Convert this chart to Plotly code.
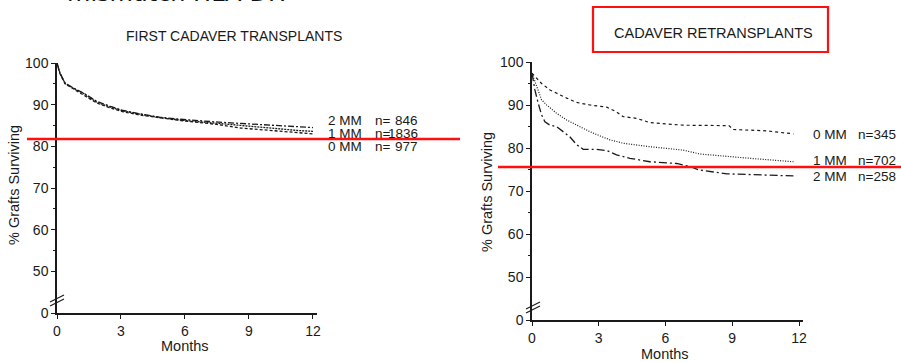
import plotly.graph_objects as go

W, H = 901, 362
def px(x): return x / W
def py(y): return 1 - y / H

# ---------------- data ----------------
x_ticks = [0, 3, 6, 9, 12]
y_tickvals = [40, 50, 60, 70, 80, 90, 100]
y_ticktext = ["0", "50", "60", "70", "80", "90", "100"]

first_months = [0, 0.14, 0.38, 0.77, 1.24, 1.86, 2.5, 3.1, 3.9, 4.8, 5.8, 6.7, 7.6, 8.6, 9.5, 10.6, 11.3, 12]
first_2mm = [100, 97.6, 95.2, 94.0, 92.8, 90.8, 89.6, 88.6, 87.8, 87.0, 86.5, 86.1, 85.8, 85.5, 85.2, 84.9, 84.7, 84.5]
first_1mm = [100, 97.5, 95.1, 93.9, 92.7, 90.6, 89.4, 88.5, 87.7, 86.9, 86.3, 85.9, 85.4, 84.9, 84.5, 84.1, 83.8, 83.6]
first_0mm = [100, 97.4, 95.0, 93.8, 92.5, 90.4, 89.2, 88.3, 87.5, 86.8, 86.2, 85.7, 85.2, 84.4, 84.0, 83.6, 83.3, 83.0]
first_labels = [("2 MM", "846"), ("1 MM", "1836"), ("0 MM", "977")]

re_0mm_m = [0, 0.43, 0.81, 1.26, 1.56, 2.0, 2.6, 3.36, 3.8, 4.1, 4.7, 5.3, 6.8, 8.85, 9.05, 10.5, 11.75]
re_0mm = [97.4, 95.0, 93.5, 92.3, 91.6, 90.6, 90.0, 89.5, 88.4, 87.3, 86.9, 85.9, 85.3, 85.2, 84.3, 84.0, 83.3]
re_1mm_m = [0, 0.21, 0.43, 0.66, 1.1, 1.56, 2.0, 2.6, 3.06, 3.5, 4.1, 5.3, 6.8, 7.55, 9.8, 11.75]
re_1mm = [97.4, 94.3, 91.2, 90.0, 88.1, 86.5, 85.3, 83.8, 82.8, 81.9, 81.1, 80.3, 79.5, 78.6, 77.6, 76.8]
re_2mm_m = [0, 0.13, 0.28, 0.43, 0.58, 0.81, 1.1, 1.4, 1.7, 2.0, 2.3, 2.9, 3.36, 3.8, 4.4, 5.3, 6.5, 7.1, 7.5, 8.75, 11.75]
re_2mm = [97.4, 93.5, 90.4, 87.7, 86.1, 85.3, 85.0, 83.8, 82.6, 80.8, 79.7, 79.7, 79.4, 78.4, 77.6, 76.8, 76.4, 75.7, 74.9, 74.0, 73.5]
re_labels = [("0 MM", "345"), ("1 MM", "702"), ("2 MM", "258")]

FONT = "Liberation Sans, Arial, Helvetica, sans-serif"
INK = "#1a1a1a"

fig = go.Figure()

def add_line(xs, ys, dash, xa, ya, width=1.3):
    fig.add_trace(go.Scatter(x=xs, y=ys, mode="lines", xaxis=xa, yaxis=ya,
                             line=dict(color=INK, width=width, dash=dash),
                             showlegend=False, hoverinfo="skip"))

add_line(first_months, first_2mm, "6px,2px,2px,2px", "x", "y")
add_line(first_months, first_1mm, "2px,1px", "x", "y")
add_line(first_months, first_0mm, "3px,2px", "x", "y")

add_line(re_0mm_m, re_0mm, "3px,3px", "x2", "y2", 1.2)
add_line(re_1mm_m, re_1mm, "1px,1.5px", "x2", "y2", 1.2)
add_line(re_2mm_m, re_2mm, "8px,3px,2px,3px", "x2", "y2", 1.3)

def xaxis_cfg(x0, x1):
    return dict(domain=[px(x0), px(x1)], range=[0, 12.2], tickvals=x_ticks,
                showline=True, linecolor=INK, linewidth=1.5, ticks="outside",
                ticklen=4, tickwidth=1.2, tickcolor=INK, showgrid=False, zeroline=False,
                tickfont=dict(family=FONT, size=14, color=INK))

def yaxis_cfg(y_top, y_bot, xa):
    return dict(domain=[py(y_bot), py(y_top)], range=[40, 100], tickvals=y_tickvals,
                ticktext=y_ticktext, showline=True, linecolor=INK, linewidth=1.5,
                ticks="outside", ticklen=4, tickwidth=1.2, tickcolor=INK,
                showgrid=False, zeroline=False, anchor=xa,
                minor=dict(tickvals=[55, 65, 75, 85, 95], ticklen=2, tickwidth=1, tickcolor=INK, ticks="outside"),
                tickfont=dict(family=FONT, size=14, color=INK))

fig.update_layout(
    width=W, height=H, margin=dict(l=0, r=0, t=0, b=0, autoexpand=False),
    autosize=False,
    paper_bgcolor="white", plot_bgcolor="white",
    xaxis=dict(**xaxis_cfg(57, 57 + 12.2 * 21.33), anchor="y"),
    yaxis=yaxis_cfg(63, 313, "x"),
    xaxis2=dict(**xaxis_cfg(532, 532 + 12.2 * 22.25), anchor="y2"),
    yaxis2=yaxis_cfg(62, 320, "x2"),
)

ann = []
def text(x, y, s, size=14, xanchor="center", yanchor="middle", angle=0, family=FONT, color=INK):
    ann.append(dict(x=px(x), y=py(y), xref="paper", yref="paper", text=s, showarrow=False,
                    xanchor=xanchor, yanchor=yanchor, textangle=angle,
                    font=dict(family=family, size=size, color=color)))

text(65, 9, "mismatch HLA-DP.", size=24, xanchor="left", yanchor="bottom",
     family="DejaVu Sans, sans-serif", color="#111")
text(234, 36, "FIRST CADAVER TRANSPLANTS", size=14)
text(713, 33, "CADAVER RETRANSPLANTS", size=14.5)
text(14, 185, "% Grafts Surviving", size=14.5, angle=-90)
text(487, 192, "% Grafts Surviving", size=14.5, angle=-90)
text(185, 346, "Months", size=14.5)
text(665, 354, "Months", size=14.5)

for (mm, n), yy in zip(first_labels, [120, 133, 146]):
    text(326, yy, mm, size=13.5, xanchor="left")
    text(373, yy, "n=", size=13.5, xanchor="left")
    text(420, yy, n, size=13.5, xanchor="right")
for (mm, n), yy in zip(re_labels, [134, 161, 176]):
    text(811, yy, mm, size=13.5, xanchor="left")
    text(898, yy, "n=" + n, size=13.5, xanchor="right")

fig.update_layout(annotations=ann)

shapes = []
def seg(x0, y0, x1, y1, color=INK, width=1.2):
    shapes.append(dict(type="line", xref="paper", yref="paper", x0=px(x0), y0=py(y0),
                       x1=px(x1), y1=py(y1), line=dict(color=color, width=width)))

# axis break marks
seg(50, 302, 64, 295); seg(50, 306, 64, 299)
seg(526, 309, 540, 302); seg(526, 313, 540, 306)
# red overlay lines and box
seg(27, 139, 460, 139, color="#ff1010", width=2.5)
seg(498, 167, 901, 167, color="#ff1010", width=2.5)
shapes.append(dict(type="rect", xref="paper", yref="paper", x0=px(593), y0=py(52),
                   x1=px(828), y1=py(7), line=dict(color="#ff1010", width=2.2)))
fig.update_layout(shapes=shapes)

fig.write_html("out.html", config={"responsive": False, "displayModeBar": False},
               post_script="document.body.style.margin='0';document.body.style.padding='0';"
                           "document.body.style.overflow='hidden';"
                           "document.documentElement.style.overflow='hidden';")
